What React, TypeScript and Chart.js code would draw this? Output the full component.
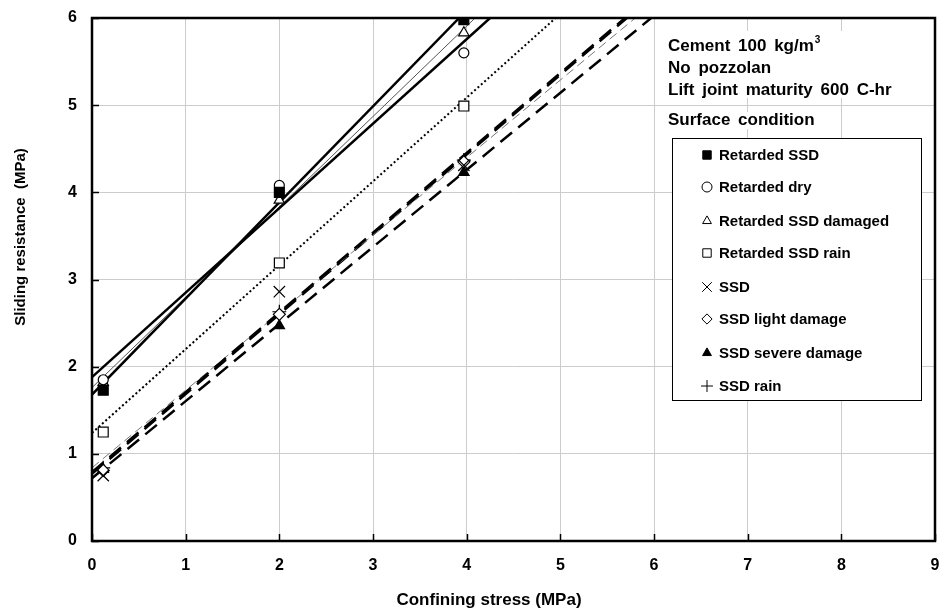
import React, { useEffect, useRef } from 'react';
import { Chart, registerables } from 'chart.js';
import { drawPoint } from 'chart.js/helpers';

Chart.register(...registerables);

// ---- data ----
const xPoints = [0.12, 2.0, 3.97];

const retardedSSD = [1.73, 4.0, 5.98];
const retardedDry = [1.85, 4.08, 5.6];
const retardedSSDDamaged = [1.82, 3.91, 5.83];
const retardedSSDRain = [1.25, 3.19, 4.99];
const ssd = [0.75, 2.86, 4.31];
const ssdLightDamage = [0.81, 2.6, 4.35];
const ssdSevereDamage = [0.82, 2.47, 4.23];
const ssdRain = [0.84, 2.63, 4.37];

// fitted lines: value at x = 0, and x where the line reaches y = 6
const fitStartY = [1.68, 1.88, 1.76, 1.24, 0.79, 0.84, 0.72, 0.77];
const fitEndX = [3.92, 4.25, 4.09, 4.95, 5.69, 5.8, 5.97, 5.71];
const fitEndY = 6;

const seriesNames = [
  'Retarded SSD',
  'Retarded dry',
  'Retarded SSD damaged',
  'Retarded SSD rain',
  'SSD',
  'SSD light damage',
  'SSD severe damage',
  'SSD rain',
];
const seriesValues = [
  retardedSSD,
  retardedDry,
  retardedSSDDamaged,
  retardedSSDRain,
  ssd,
  ssdLightDamage,
  ssdSevereDamage,
  ssdRain,
];

const xTicks = [0, 1, 2, 3, 4, 5, 6, 7, 8, 9];
const yTicks = [0, 1, 2, 3, 4, 5, 6];

const xTitle = 'Confining stress (MPa)';
const yTitle = 'Sliding resistance  (MPa)';
const annotationLines = ['Cement 100 kg/m', 'No pozzolan', 'Lift joint maturity 600 C-hr'];
const legendTitle = 'Surface condition';

// ---- styles ----
const FONT = '"Liberation Sans", Arial, sans-serif';

const markerStyles = [
  { pointStyle: 'rect', radius: 7, fill: '#000', stroke: '#000' },
  { pointStyle: 'circle', radius: 5, fill: '#fff', stroke: '#000' },
  { pointStyle: 'triangle', radius: 6, fill: '#fff', stroke: '#000' },
  { pointStyle: 'rect', radius: 7, fill: '#fff', stroke: '#000' },
  { pointStyle: 'crossRot', radius: 8, fill: '#fff', stroke: '#000' },
  { pointStyle: 'rectRot', radius: 6, fill: '#fff', stroke: '#000' },
  { pointStyle: 'triangle', radius: 6, fill: '#000', stroke: '#000' },
  { pointStyle: 'cross', radius: 7, fill: '#fff', stroke: '#000' },
];

const lineStyles = [
  { color: '#000', width: 2.5, dash: [] as number[] },
  { color: '#000', width: 2.5, dash: [] as number[] },
  { color: '#555', width: 1, dash: [] as number[] },
  { color: '#000', width: 2, dash: [2, 2.5] },
  { color: '#000', width: 2.5, dash: [15, 8] },
  { color: '#777', width: 1, dash: [9, 5] },
  { color: '#000', width: 2.5, dash: [15, 8] },
  { color: '#000', width: 2.5, dash: [15, 8] },
];

const overlayPlugin = {
  id: 'overlay',
  beforeDatasetsDraw(chart: any) {
    const { ctx } = chart;
    ctx.save();
    ctx.fillStyle = '#fff';
    ctx.fillRect(664, 31, 238, 67);
    ctx.fillRect(664, 112, 170, 17);
    ctx.restore();
  },
  afterDatasetsDraw(chart: any) {
    const { ctx, chartArea: a, scales } = chart;
    ctx.save();
    // inward ticks
    ctx.strokeStyle = '#000';
    ctx.lineWidth = 1.5;
    ctx.beginPath();
    xTicks.forEach((v) => {
      const px = Math.round(scales.x.getPixelForValue(v)) + 0.5;
      ctx.moveTo(px, a.bottom);
      ctx.lineTo(px, a.bottom - 7);
    });
    yTicks.forEach((v) => {
      const py = Math.round(scales.y.getPixelForValue(v)) + 0.5;
      ctx.moveTo(a.left, py);
      ctx.lineTo(a.left + 7, py);
    });
    ctx.stroke();
    // frame
    ctx.lineWidth = 2.5;
    ctx.strokeRect(a.left, a.top, a.right - a.left, a.bottom - a.top);

    // axis titles
    ctx.fillStyle = '#000';
    ctx.textBaseline = 'middle';
    ctx.textAlign = 'center';
    ctx.font = 'bold 17px ' + FONT;
    ctx.fillText(xTitle, 489, 600);
    ctx.save();
    ctx.translate(21, 237);
    ctx.rotate(-Math.PI / 2);
    ctx.font = 'bold 15px ' + FONT;
    ctx.fillText(yTitle, 0, 0);
    ctx.restore();

    // annotation text
    ctx.fillStyle = '#000';
    ctx.textBaseline = 'middle';
    ctx.textAlign = 'left';
    ctx.font = 'bold 17px ' + FONT;
    (ctx as any).wordSpacing = '3px';
    const ys = [46, 68, 90];
    annotationLines.forEach((t, i) => {
      ctx.fillText(t, 668, ys[i]);
    });
    const w0 = ctx.measureText(annotationLines[0]).width;
    ctx.font = 'bold 10px ' + FONT;
    ctx.fillText('3', 668 + w0 + 1, 40);
    ctx.font = 'bold 17px ' + FONT;
    ctx.fillText(legendTitle, 668, 120);
    (ctx as any).wordSpacing = '0px';

    // legend box
    const bx = 672, by = 138, bw = 249, bh = 262;
    ctx.fillStyle = '#fff';
    ctx.fillRect(bx, by, bw, bh);
    ctx.lineWidth = 1;
    ctx.strokeStyle = '#000';
    ctx.strokeRect(bx + 0.5, by + 0.5, bw, bh);
    const rowY = [155, 187, 221, 253, 287, 319, 353, 386];
    seriesNames.forEach((name, i) => {
      const m = markerStyles[i];
      ctx.save();
      ctx.fillStyle = m.fill;
      ctx.strokeStyle = m.stroke;
      ctx.lineWidth = 1;
      drawPoint(ctx, { pointStyle: m.pointStyle, radius: Math.max(5, m.radius * 0.85), rotation: 0, borderWidth: 1 } as any, 707, rowY[i]);
      ctx.restore();
      ctx.fillStyle = '#000';
      ctx.font = 'bold 15px ' + FONT;
      ctx.textBaseline = 'middle';
      ctx.fillText(name, 719, rowY[i] + 1);
    });
    ctx.restore();
  },
};

export default function App() {
  const ref = useRef<HTMLCanvasElement | null>(null);

  useEffect(() => {
    if (!ref.current) return;

    const lineSets = seriesNames.map((name, i) => ({
      type: 'scatter' as const,
      label: name + ' fit',
      data: [
        { x: 0, y: fitStartY[i] },
        { x: fitEndX[i], y: fitEndY },
      ],
      showLine: true,
      borderColor: lineStyles[i].color,
      borderWidth: lineStyles[i].width,
      borderDash: lineStyles[i].dash,
      pointRadius: 0,
      pointHoverRadius: 0,
      order: 2,
    }));

    const markerSets = seriesNames.map((name, i) => ({
      type: 'scatter' as const,
      label: name,
      data: xPoints.map((x, j) => ({ x, y: seriesValues[i][j] })),
      showLine: false,
      pointStyle: markerStyles[i].pointStyle,
      pointRadius: markerStyles[i].radius,
      pointBackgroundColor: markerStyles[i].fill,
      pointBorderColor: markerStyles[i].stroke,
      pointBorderWidth: 1.2,
      order: 1,
    }));

    const chart = new Chart(ref.current, {
      type: 'scatter',
      data: { datasets: [...lineSets, ...markerSets] as any },
      options: {
        animation: false,
        responsive: false,
        maintainAspectRatio: false,
        layout: { padding: { top: 18, right: 10, left: 0, bottom: 0 } },
        plugins: { legend: { display: false }, tooltip: { enabled: false } },
        scales: {
          x: {
            type: 'linear',
            min: 0,
            max: 9,
            afterBuildTicks: (s: any) => {
              s.ticks = xTicks.map((v) => ({ value: v }));
            },
            ticks: { padding: 15, color: '#000', font: { family: FONT, size: 16, weight: 'bold' } },
            grid: { color: '#cccccc', drawTicks: false, lineWidth: 1 },
            border: { display: false },
            title: { display: false },
            afterFit: (s: any) => {
              s.height = 71;
              s.paddingLeft = 0;
              s.paddingRight = 0;
            },
          },
          y: {
            type: 'linear',
            min: 0,
            max: 6,
            afterBuildTicks: (s: any) => {
              s.ticks = yTicks.map((v) => ({ value: v }));
            },
            ticks: { padding: 15, color: '#000', font: { family: FONT, size: 16, weight: 'bold' } },
            grid: { color: '#cccccc', drawTicks: false, lineWidth: 1 },
            border: { display: false },
            title: { display: false },
            afterFit: (s: any) => {
              s.width = 92;
              s.paddingTop = 0;
              s.paddingBottom = 0;
            },
          },
        },
      },
      plugins: [overlayPlugin],
    });

    return () => chart.destroy();
  }, []);

  return (
    <div style={{ position: 'absolute', left: 0, top: 0, width: 945, height: 612, background: '#fff' }}>
      <canvas ref={ref} width={945} height={612} style={{ display: 'block' }} />
    </div>
  );
}
